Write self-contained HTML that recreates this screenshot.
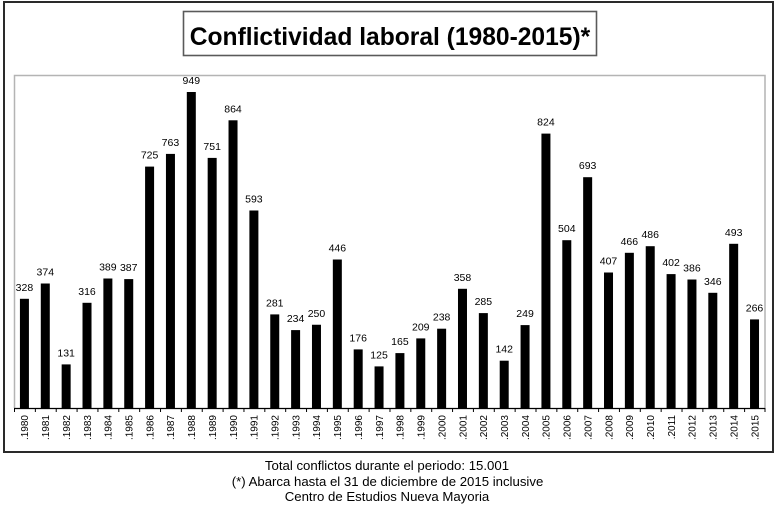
<!DOCTYPE html>
<html>
<head>
<meta charset="utf-8">
<style>
  html,body{margin:0;padding:0;background:#fff;}
  body{width:776px;height:524px;overflow:hidden;}
  svg{display:block;}
  text{font-family:"Liberation Sans",Arial,sans-serif;fill:#000;}
</style>
</head>
<body>
<svg width="776" height="524" viewBox="0 0 776 524" xmlns="http://www.w3.org/2000/svg">
  <rect x="0" y="0" width="776" height="524" fill="#fff"/>
  <!-- outer frame -->
  <rect x="4" y="2" width="769" height="450" fill="none" stroke="#2a2a2a" stroke-width="2"/>
  <!-- title box -->
  <rect x="183.5" y="11.5" width="413" height="44" fill="#fff" stroke="#5a5a5a" stroke-width="1.6"/>
  <text x="390" y="45" font-size="24.6" font-weight="bold" text-anchor="middle">Conflictividad laboral (1980-2015)*</text>

  <!-- plot area -->
  <polyline points="14.5,408 14.5,75.5 765,75.5 765,408" fill="none" stroke="#b4b4b4" stroke-width="1.5"/>

  <!-- bars -->
  <g fill="#000">
    <rect x="19.93" y="298.8" width="9" height="109.2"/>
    <rect x="40.79" y="283.5" width="9" height="124.5"/>
    <rect x="61.65" y="364.4" width="9" height="43.6"/>
    <rect x="82.51" y="302.8" width="9" height="105.2"/>
    <rect x="103.37" y="278.5" width="9" height="129.5"/>
    <rect x="124.23" y="279.1" width="9" height="128.9"/>
    <rect x="145.09" y="166.6" width="9" height="241.4"/>
    <rect x="165.95" y="153.9" width="9" height="254.1"/>
    <rect x="186.81" y="92.0" width="9" height="316.0"/>
    <rect x="207.67" y="157.9" width="9" height="250.1"/>
    <rect x="228.53" y="120.3" width="9" height="287.7"/>
    <rect x="249.39" y="210.5" width="9" height="197.5"/>
    <rect x="270.25" y="314.4" width="9" height="93.6"/>
    <rect x="291.11" y="330.1" width="9" height="77.9"/>
    <rect x="311.97" y="324.75" width="9" height="83.25"/>
    <rect x="332.83" y="259.5" width="9" height="148.5"/>
    <rect x="353.69" y="349.4" width="9" height="58.6"/>
    <rect x="374.55" y="366.4" width="9" height="41.6"/>
    <rect x="395.41" y="353.1" width="9" height="54.9"/>
    <rect x="416.27" y="338.4" width="9" height="69.6"/>
    <rect x="437.13" y="328.7" width="9" height="79.3"/>
    <rect x="457.99" y="288.8" width="9" height="119.2"/>
    <rect x="478.85" y="313.1" width="9" height="94.9"/>
    <rect x="499.71" y="360.7" width="9" height="47.3"/>
    <rect x="520.57" y="325.1" width="9" height="82.9"/>
    <rect x="541.43" y="133.6" width="9" height="274.4"/>
    <rect x="562.29" y="240.2" width="9" height="167.8"/>
    <rect x="583.15" y="177.2" width="9" height="230.8"/>
    <rect x="604.01" y="272.5" width="9" height="135.5"/>
    <rect x="624.87" y="252.8" width="9" height="155.2"/>
    <rect x="645.73" y="246.2" width="9" height="161.8"/>
    <rect x="666.59" y="274.1" width="9" height="133.9"/>
    <rect x="687.45" y="279.5" width="9" height="128.5"/>
    <rect x="708.31" y="292.8" width="9" height="115.2"/>
    <rect x="729.17" y="243.8" width="9" height="164.2"/>
    <rect x="750.03" y="319.4" width="9" height="88.6"/>
  </g>

  <!-- value labels -->
  <g font-size="10.5" text-anchor="middle">
    <text x="24.43" y="290.8">328</text>
    <text x="45.29" y="275.5">374</text>
    <text x="66.15" y="356.4">131</text>
    <text x="87.01" y="294.8">316</text>
    <text x="107.87" y="270.5">389</text>
    <text x="128.73" y="271.1">387</text>
    <text x="149.59" y="158.6">725</text>
    <text x="170.45" y="145.9">763</text>
    <text x="191.31" y="84.0">949</text>
    <text x="212.17" y="149.9">751</text>
    <text x="233.03" y="112.3">864</text>
    <text x="253.89" y="202.5">593</text>
    <text x="274.75" y="306.4">281</text>
    <text x="295.61" y="322.1">234</text>
    <text x="316.47" y="316.75">250</text>
    <text x="337.33" y="251.5">446</text>
    <text x="358.19" y="341.4">176</text>
    <text x="379.05" y="358.4">125</text>
    <text x="399.91" y="345.1">165</text>
    <text x="420.77" y="330.4">209</text>
    <text x="441.63" y="320.7">238</text>
    <text x="462.49" y="280.8">358</text>
    <text x="483.35" y="305.1">285</text>
    <text x="504.21" y="352.7">142</text>
    <text x="525.07" y="317.1">249</text>
    <text x="545.93" y="125.6">824</text>
    <text x="566.79" y="232.2">504</text>
    <text x="587.65" y="169.2">693</text>
    <text x="608.51" y="264.5">407</text>
    <text x="629.37" y="244.8">466</text>
    <text x="650.23" y="238.2">486</text>
    <text x="671.09" y="266.1">402</text>
    <text x="691.95" y="271.5">386</text>
    <text x="712.81" y="284.8">346</text>
    <text x="733.67" y="235.8">493</text>
    <text x="754.53" y="311.4">266</text>
  </g>

  <!-- x axis -->
  <line x1="14" y1="408.5" x2="765" y2="408.5" stroke="#000" stroke-width="1.2"/>
  <g stroke="#000" stroke-width="1">
    <line x1="14.5" y1="408" x2="14.5" y2="412"/>
    <line x1="35.36" y1="408" x2="35.36" y2="412"/>
    <line x1="56.22" y1="408" x2="56.22" y2="412"/>
    <line x1="77.08" y1="408" x2="77.08" y2="412"/>
    <line x1="97.94" y1="408" x2="97.94" y2="412"/>
    <line x1="118.8" y1="408" x2="118.8" y2="412"/>
    <line x1="139.66" y1="408" x2="139.66" y2="412"/>
    <line x1="160.52" y1="408" x2="160.52" y2="412"/>
    <line x1="181.38" y1="408" x2="181.38" y2="412"/>
    <line x1="202.24" y1="408" x2="202.24" y2="412"/>
    <line x1="223.1" y1="408" x2="223.1" y2="412"/>
    <line x1="243.96" y1="408" x2="243.96" y2="412"/>
    <line x1="264.82" y1="408" x2="264.82" y2="412"/>
    <line x1="285.68" y1="408" x2="285.68" y2="412"/>
    <line x1="306.54" y1="408" x2="306.54" y2="412"/>
    <line x1="327.4" y1="408" x2="327.4" y2="412"/>
    <line x1="348.26" y1="408" x2="348.26" y2="412"/>
    <line x1="369.12" y1="408" x2="369.12" y2="412"/>
    <line x1="389.98" y1="408" x2="389.98" y2="412"/>
    <line x1="410.84" y1="408" x2="410.84" y2="412"/>
    <line x1="431.7" y1="408" x2="431.7" y2="412"/>
    <line x1="452.56" y1="408" x2="452.56" y2="412"/>
    <line x1="473.42" y1="408" x2="473.42" y2="412"/>
    <line x1="494.28" y1="408" x2="494.28" y2="412"/>
    <line x1="515.14" y1="408" x2="515.14" y2="412"/>
    <line x1="536.0" y1="408" x2="536.0" y2="412"/>
    <line x1="556.86" y1="408" x2="556.86" y2="412"/>
    <line x1="577.72" y1="408" x2="577.72" y2="412"/>
    <line x1="598.58" y1="408" x2="598.58" y2="412"/>
    <line x1="619.44" y1="408" x2="619.44" y2="412"/>
    <line x1="640.3" y1="408" x2="640.3" y2="412"/>
    <line x1="661.16" y1="408" x2="661.16" y2="412"/>
    <line x1="682.02" y1="408" x2="682.02" y2="412"/>
    <line x1="702.88" y1="408" x2="702.88" y2="412"/>
    <line x1="723.74" y1="408" x2="723.74" y2="412"/>
    <line x1="744.6" y1="408" x2="744.6" y2="412"/>
    <line x1="765" y1="408" x2="765" y2="412"/>
  </g>

  <!-- x tick labels (rotated) -->
  <g font-size="10" text-anchor="end">
    <text transform="translate(28.2,415) rotate(-90)">.1980</text>
    <text transform="translate(49.1,415) rotate(-90)">.1981</text>
    <text transform="translate(69.9,415) rotate(-90)">.1982</text>
    <text transform="translate(90.8,415) rotate(-90)">.1983</text>
    <text transform="translate(111.6,415) rotate(-90)">.1984</text>
    <text transform="translate(132.5,415) rotate(-90)">.1985</text>
    <text transform="translate(153.4,415) rotate(-90)">.1986</text>
    <text transform="translate(174.2,415) rotate(-90)">.1987</text>
    <text transform="translate(195.1,415) rotate(-90)">.1988</text>
    <text transform="translate(215.9,415) rotate(-90)">.1989</text>
    <text transform="translate(236.8,415) rotate(-90)">.1990</text>
    <text transform="translate(257.7,415) rotate(-90)">.1991</text>
    <text transform="translate(278.5,415) rotate(-90)">.1992</text>
    <text transform="translate(299.4,415) rotate(-90)">.1993</text>
    <text transform="translate(320.2,415) rotate(-90)">.1994</text>
    <text transform="translate(341.1,415) rotate(-90)">.1995</text>
    <text transform="translate(362.0,415) rotate(-90)">.1996</text>
    <text transform="translate(382.8,415) rotate(-90)">.1997</text>
    <text transform="translate(403.7,415) rotate(-90)">.1998</text>
    <text transform="translate(424.5,415) rotate(-90)">.1999</text>
    <text transform="translate(445.4,415) rotate(-90)">.2000</text>
    <text transform="translate(466.3,415) rotate(-90)">.2001</text>
    <text transform="translate(487.1,415) rotate(-90)">.2002</text>
    <text transform="translate(508.0,415) rotate(-90)">.2003</text>
    <text transform="translate(528.8,415) rotate(-90)">.2004</text>
    <text transform="translate(549.7,415) rotate(-90)">.2005</text>
    <text transform="translate(570.6,415) rotate(-90)">.2006</text>
    <text transform="translate(591.4,415) rotate(-90)">.2007</text>
    <text transform="translate(612.3,415) rotate(-90)">.2008</text>
    <text transform="translate(633.1,415) rotate(-90)">.2009</text>
    <text transform="translate(654.0,415) rotate(-90)">.2010</text>
    <text transform="translate(674.9,415) rotate(-90)">.2011</text>
    <text transform="translate(695.7,415) rotate(-90)">.2012</text>
    <text transform="translate(716.6,415) rotate(-90)">.2013</text>
    <text transform="translate(737.4,415) rotate(-90)">.2014</text>
    <text transform="translate(758.3,415) rotate(-90)">.2015</text>
  </g>

  <!-- footer -->
  <g font-size="13.2" text-anchor="middle">
    <text x="387" y="470">Total conflictos durante el periodo: 15.001</text>
    <text x="387.5" y="486">(*) Abarca hasta el 31 de diciembre de 2015 inclusive</text>
    <text x="387" y="501">Centro de Estudios Nueva Mayoria</text>
  </g>
</svg>
</body>
</html>
